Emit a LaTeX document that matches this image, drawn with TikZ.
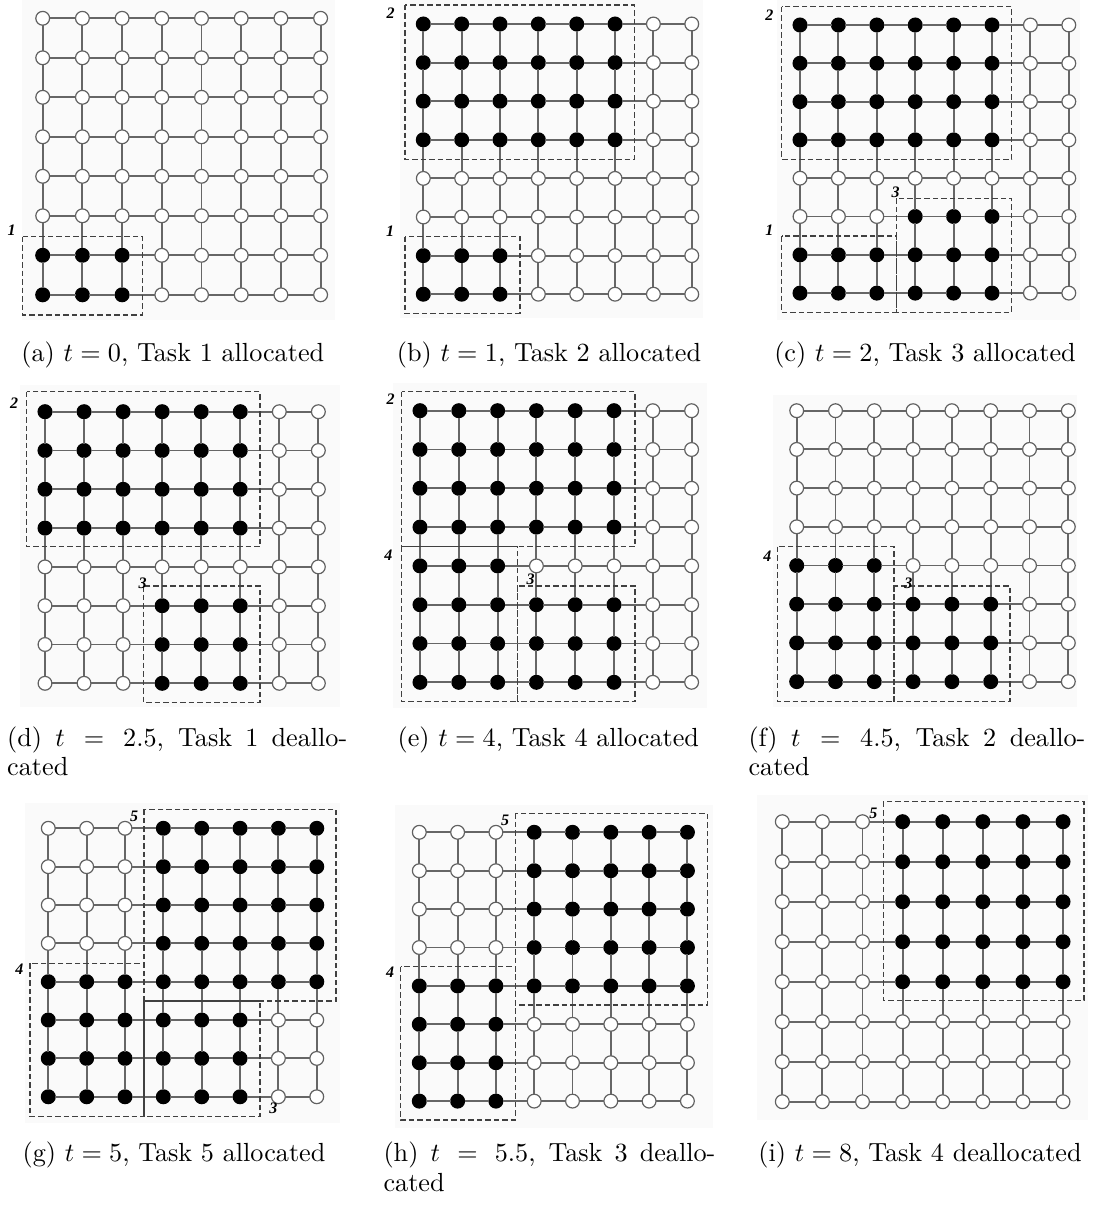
\documentclass[tikz,border=0pt]{standalone}
\usepackage{fontspec}
\newfontfamily\numfont{Liberation Serif}
\newcommand\meshpanel[6]{%
  \foreach \ri in {0,...,7}{%
    \foreach \ci in {0,...,7}{%
      \pgfmathtruncatemacro\blk{((#6)>0)}%
      \ifnum\blk=1 \def\fc{black}\def\dc{black}\else\def\fc{white}\def\dc{black!62}\fi
      \node[pe, fill=\fc, draw=\dc] (#1-\ri-\ci) at ({#2+\ci*#4},{#3+\ri*#5}) {};
    }%
  }%
  \foreach \ri in {0,...,7}{%
    \foreach \ci [evaluate=\ci as \cn using int(\ci+1)] in {0,...,6}{%
      \draw[link] (#1-\ri-\ci) -- (#1-\ri-\cn);
      \draw[link] (#1-\ci-\ri) -- (#1-\cn-\ri);
    }%
  }%
}
\begin{document}
\begin{tikzpicture}[x=1pt,y=-1pt,
  pe/.style={circle, minimum size=13.8pt, inner sep=0pt, outer sep=0pt, line width=1.2pt},
  link/.style={draw=black!60, line width=1.9pt},
  tbox/.style={draw=black!75, line width=1.2pt, dash pattern=on 5.5pt off 3pt},
  tlab/.style={font=\numfont\fontsize{16}{16}\selectfont\bfseries\itshape, inner sep=0pt},
  captext/.style={font=\fontsize{10}{12}\selectfont, inner sep=0pt, scale=2.62, transform shape},
  bg/.style={fill=black!2}]
\useasboundingbox (0,0) rectangle (1099,1207);
% backgrounds
\fill[bg] (22,0) rectangle (335,320);
\fill[bg] (400,0) rectangle (703,318);
\fill[bg] (777,0) rectangle (1080,320);
\fill[bg] (20,385) rectangle (340,707);
\fill[bg] (393,383) rectangle (707,708);
\fill[bg] (773,395) rectangle (1077,707);
\fill[bg] (25,803) rectangle (340,1123);
\fill[bg] (395,805) rectangle (713,1128);
\fill[bg] (757,795) rectangle (1088,1120);
% panels
\meshpanel{a}{42.7}{18.3}{39.7}{39.5}{(\ri>=6)*(\ci<=2)}
\meshpanel{b}{423.3}{24}{38.35}{38.6}{(\ri<=3)*(\ci<=5)+(\ri>=6)*(\ci<=2)}
\meshpanel{c}{800}{25}{38.4}{38.3}{(\ri<=3)*(\ci<=5)+(\ri>=6)*(\ci<=2)+(\ri>=5)*(\ci>=3)*(\ci<=5)}
\meshpanel{d}{45}{411.7}{39.05}{38.8}{(\ri<=3)*(\ci<=5)+(\ri>=5)*(\ci>=3)*(\ci<=5)}
\meshpanel{e}{420}{410.7}{38.8}{38.8}{(\ri<=3)*(\ci<=5)+(\ri>=4)*(\ci<=2)+(\ri>=5)*(\ci>=3)*(\ci<=5)}
\meshpanel{f}{796.7}{410.7}{38.8}{38.7}{(\ri>=4)*(\ci<=2)+(\ri>=5)*(\ci>=3)*(\ci<=5)}
\meshpanel{g}{48.3}{828.3}{38.35}{38.35}{(\ri<=4)*(\ci>=3)+(\ri>=4)*(\ci<=2)+(\ri>=5)*(\ci>=3)*(\ci<=5)}
\meshpanel{h}{419.3}{832.3}{38.3}{38.4}{(\ri<=4)*(\ci>=3)+(\ri>=4)*(\ci<=2)}
\meshpanel{i}{782.3}{821.7}{40.1}{40}{(\ri<=4)*(\ci>=3)}
% task boxes and labels
% (a)
\draw[tbox] (22.7,236.7) rectangle (142.3,315);
\node[tlab] (la1) at (11.7,230.7) {1};
% (b)
\draw[tbox] (405,5) rectangle (634.3,159.3);
\node[tlab] (lb2) at (390.7,13.3) {2};
\draw[tbox] (405,236.7) rectangle (520,313.3);
\node[tlab] (lb1) at (390,231.7) {1};
% (c)
\draw[tbox] (781.7,6.7) rectangle (1011.7,159.3);
\node[tlab] (lc2) at (769.3,15) {2};
\draw[tbox] (896.7,198.3) rectangle (1011.7,312.3);
\node[tlab] (lc3) at (895.7,192.7) {3};
\draw[tbox] (781.7,236) rectangle (896.7,312.3);
\node[tlab] (lc1) at (769.3,230.7) {1};
% (d)
\draw[tbox] (26.7,391.7) rectangle (260,546.7);
\node[tlab] (ld2) at (14,403.3) {2};
\draw[tbox] (143.3,586) rectangle (260,702.3);
\node[tlab] (ld3) at (142.7,583.3) {3};
% (e)
\draw[tbox] (401.7,391.7) rectangle (635,546.7);
\node[tlab] (le2) at (390.7,399.3) {2};
\draw[tbox] (401.7,546.7) rectangle (517.7,701.7);
\node[tlab] (le4) at (388.3,555) {4};
\draw[tbox] (517.7,586) rectangle (635,701.7);
\node[tlab] (le3) at (530.7,579.3) {3};
% (f)
\draw[tbox] (777.7,546.7) rectangle (894,701.7);
\node[tlab] (lf4) at (767.3,556.7) {4};
\draw[tbox] (894,586) rectangle (1010,701.7);
\node[tlab] (lf3) at (908.3,583.3) {3};
% (g)
\draw[tbox] (144,809.3) rectangle (336,1001);
\node[tlab] (lg5) at (134,816.7) {5};
\draw[tbox] (30,963.3) rectangle (144,1116.7);
\node[tlab] (lg4) at (19.3,969) {4};
\draw[tbox] (144,1001) rectangle (260,1116.7);
\node[tlab] (lg3) at (273.3,1108.3) {3};
% (h)
\draw[tbox] (515.3,813.3) rectangle (707.3,1005);
\node[tlab] (lh5) at (505,820) {5};
\draw[tbox] (400.7,966.7) rectangle (515.3,1120);
\node[tlab] (lh4) at (390,972.3) {4};
% (i)
\draw[tbox] (883.3,801.7) rectangle (1084,1000.7);
\node[tlab] (li5) at (873.3,813.3) {5};
% captions
\node[captext, anchor=base] (capa) at (172.8,361) {(a) $t=0$, Task 1 allocated};
\node[captext, anchor=base] (capb) at (549,361) {(b) $t=1$, Task 2 allocated};
\node[captext, anchor=base] (capc) at (925,361) {(c) $t=2$, Task 3 allocated};
\node[captext, anchor=base west] (capd) at (6.7,746) {\makebox[129.8pt][s]{(d) $t\,=\,2.5$, Task 1 deallo-}};
\node[captext, anchor=base west] (capd2) at (6.7,775) {cated};
\node[captext, anchor=base] (cape) at (548.3,746) {(e) $t=4$, Task 4 allocated};
\node[captext, anchor=base west] (capf) at (748,746) {\makebox[128.6pt][s]{(f) $t\,=\,4.5$, Task 2 deallo-}};
\node[captext, anchor=base west] (capf2) at (748,775) {cated};
\node[captext, anchor=base] (capg) at (174,1161) {(g) $t=5$, Task 5 allocated};
\node[captext, anchor=base west] (caph) at (383,1161) {\makebox[126.7pt][s]{(h) $t\,=\,5.5$, Task 3 deallo-}};
\node[captext, anchor=base west] (caph2) at (383,1191) {cated};
\node[captext, anchor=base] (capi) at (920,1161) {(i) $t=8$, Task 4 deallocated};
\end{tikzpicture}
\end{document}
